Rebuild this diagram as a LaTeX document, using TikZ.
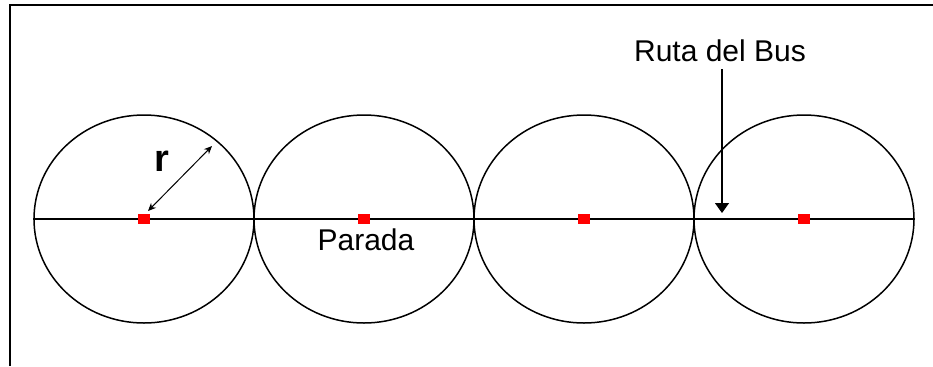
\documentclass[tikz,border=0pt]{standalone}
\usepackage{fontspec}
\setmainfont{Liberation Sans}
\usetikzlibrary{
  arrows.meta,
  shapes.geometric
}
\definecolor{stopred}{RGB}{255,0,0}

\begin{document}
\begin{tikzpicture}[x=0.5pt, y=-0.5pt, every node/.style={font=\fontsize{15}{18}\selectfont}]
  \useasboundingbox (0,0) rectangle (933,366);
  % Frame
  \draw[line width=1.1pt] (10,366) -- (10,5) -- (933,5);

  % Zones round each stop
  \foreach \i/\x in {1/144, 2/364, 3/584, 4/804}{
    \node[draw, ellipse, line width=0.75pt, inner sep=0pt, minimum width=110pt, minimum height=104pt] (zone\i) at (\x,219) {};
  }

  % Bus route
  \draw[line width=1pt] (zone1.west) -- (zone4.east);

  % Stops
  \foreach \i/\x in {1/144, 2/364, 3/584, 4/804}{
    \node[fill=stopred, inner sep=0pt, minimum width=6pt, minimum height=4.8pt] (stop\i) at (\x,219) {};
  }

  % Radius
  \coordinate (rin) at (148,211);
  \coordinate (rout) at (212,146);
  \draw[line width=0.5pt, {Stealth[length=4pt,width=3.5pt]}-{Stealth[length=4pt,width=3.5pt]}] (rin) -- (rout);
  \node[font=\fontsize{19}{22}\selectfont\bfseries] (rlabel) at (162,161) {r};

  % Labels
  \node (stoplabel) at (366,240) {Parada};
  \node (routelabel) at (720,51) {Ruta del Bus};
  \coordinate (routetip) at (722,213);
  \draw[line width=0.7pt, -{Triangle[length=5pt,width=7pt]}] (routelabel.south -| routetip) -- (routetip);
\end{tikzpicture}
\end{document}
